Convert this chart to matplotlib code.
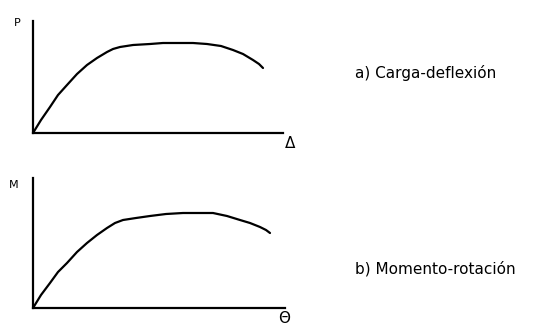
import matplotlib
matplotlib.use('Agg')
import matplotlib.pyplot as plt

# curva carga-deflexion (unidades arbitrarias)
delta = [0, 8, 17, 25, 34, 44, 54, 64, 74, 80, 87, 100, 117, 130, 144, 160,
         174, 188, 200, 210, 220, 226, 230]
carga = [0, 13, 26, 38, 48, 59, 68, 75, 81, 84, 86, 88, 89, 90, 90, 90,
         89, 87, 83, 79, 73, 69, 65]

# curva momento-rotacion
theta = [0, 8, 17, 25, 34, 44, 54, 64, 74, 82, 90, 103, 117, 133, 150, 165,
         180, 194, 207, 217, 227, 233, 237]
momento = [0, 13, 25, 36, 45, 56, 65, 73, 80, 85, 88, 90, 92, 94, 95, 95,
           95, 92, 88, 85, 81, 78, 75]

W, H = 538, 327
fig = plt.figure(figsize=(W / 100, H / 100), dpi=100)


def px(x, y):
    return x / W, 1 - y / H


def panel(left, top, right, bottom, xs, ys, ylabel, xlabel, title, ty, xlab_pos, ylab_pos):
    ax = fig.add_axes([left / W, 1 - bottom / H, (right - left) / W, (bottom - top) / H])
    ax.plot(xs, ys, color='black', lw=1.6, solid_capstyle='round', solid_joinstyle='round')
    ax.set_xlim(0, right - left)
    ax.set_ylim(0, bottom - top)
    for s in ['top', 'right']:
        ax.spines[s].set_visible(False)
    for s in ['left', 'bottom']:
        ax.spines[s].set_linewidth(1.6)
    ax.set_xticks([])
    ax.set_yticks([])
    ax.patch.set_alpha(0)
    fig.text(*px(*ylab_pos), ylabel, fontsize=8, ha='center', va='center')
    fig.text(*px(*xlab_pos), xlabel, fontsize=11, ha='center', va='center')
    fig.text(*px(355, ty), title, fontsize=11, ha='left', va='center')


panel(33, 21, 283, 133, delta, carga, 'P', '$\\Delta$', 'a) Carga-deflexión', 73, (290, 143), (17, 23))
panel(33, 178, 285, 308, theta, momento, 'M', '$\\Theta$', 'b) Momento-rotación', 269, (285, 318), (14, 185))

fig.savefig('out.png', dpi=100)
